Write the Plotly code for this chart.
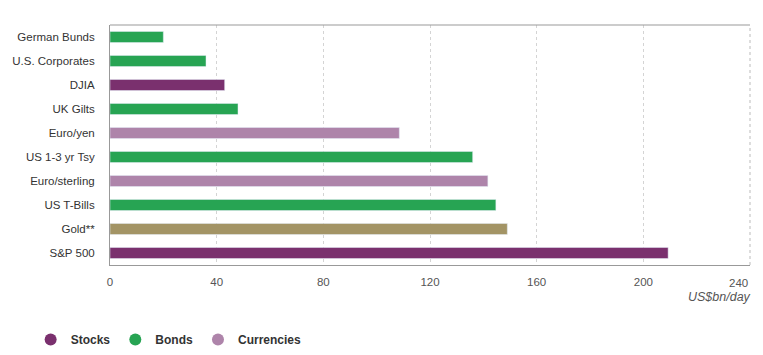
import plotly.graph_objects as go

categories = ["German Bunds", "U.S. Corporates", "DJIA", "UK Gilts", "Euro/yen",
              "US 1-3 yr Tsy", "Euro/sterling", "US T-Bills", "Gold**", "S&P 500"]
groups = ["Bonds", "Bonds", "Stocks", "Bonds", "Currencies",
          "Bonds", "Currencies", "Bonds", "Gold", "Stocks"]
values = [20, 36, 43, 48, 108.5, 136, 141.7, 144.7, 149, 209.3]
tick_vals = [0, 40, 80, 120, 160, 200, 240]
tick_text = ["0", "40", "80", "120", "160", "200", "240"]

colors = {"Stocks": "#7a306e", "Bonds": "#27a453", "Currencies": "#ae84aa", "Gold": "#a39465"}
legend_groups = ["Stocks", "Bonds", "Currencies"]

fig = go.Figure()
for g in ["Stocks", "Bonds", "Currencies", "Gold"]:
    ys = [c for c, gg in zip(categories, groups) if gg == g]
    xs = [v for v, gg in zip(values, groups) if gg == g]
    fig.add_trace(go.Bar(x=xs, y=ys, orientation="h", marker_color=colors[g],
                         width=0.46, showlegend=False, hoverinfo="x+y"))
for g in legend_groups:
    fig.add_trace(go.Scatter(x=[None], y=[None], mode="markers", name=g,
                             marker=dict(symbol="circle", size=12, color=colors[g])))

tick_font = dict(size=11.5, color="#555", family="Liberation Sans, Arial, sans-serif")

fig.update_layout(
    width=763, height=355,
    margin=dict(l=110, r=13, t=25, b=90, autoexpand=False),
    plot_bgcolor="white", paper_bgcolor="white",
    barmode="overlay",
    font=dict(family="Liberation Sans, Arial, sans-serif", size=11, color="#333"),
    xaxis=dict(range=[0, 240], tickvals=tick_vals,
               ticktext=tick_text[:-1] + [""], showgrid=True,
               gridcolor="#d4d4d4", griddash="dot", gridwidth=1,
               zeroline=False, showline=True, linecolor="#999", mirror=False,
               tickfont=tick_font, ticks="", ticklen=0,
               ticklabelstandoff=6, fixedrange=True),
    yaxis=dict(categoryorder="array", categoryarray=categories, autorange="reversed",
               showline=True, linecolor="#999", showgrid=False, ticks="",
               ticklabelstandoff=12,
               tickfont=dict(size=11.5, color="#333"), fixedrange=True),
    legend=dict(orientation="h", x=-0.124, y=-0.31, xanchor="left", yanchor="middle",
                font=dict(size=12, color="#333", family="Liberation Sans, Arial, sans-serif", weight="bold"),
                itemsizing="constant"),
    shapes=[
        dict(type="line", xref="paper", yref="paper", x0=0, x1=1, y0=1, y1=1,
             line=dict(color="#999", width=1)),
        dict(type="line", xref="paper", yref="paper", x0=1, x1=1, y0=0, y1=1,
             line=dict(color="#bbb", width=1, dash="dot")),
    ],
    annotations=[
        dict(text=tick_text[-1], xref="x", yref="paper", x=tick_vals[-1], y=0,
             xanchor="right", yanchor="top", yshift=-10, showarrow=False,
             font=tick_font),
        dict(text="<i>US$bn/day</i>", xref="paper", yref="paper", x=1.0, y=-0.135,
             xanchor="right", yanchor="middle", showarrow=False, xshift=3,
             font=dict(size=12.5, color="#555")),
    ],
)
fig.write_html("out.html")
